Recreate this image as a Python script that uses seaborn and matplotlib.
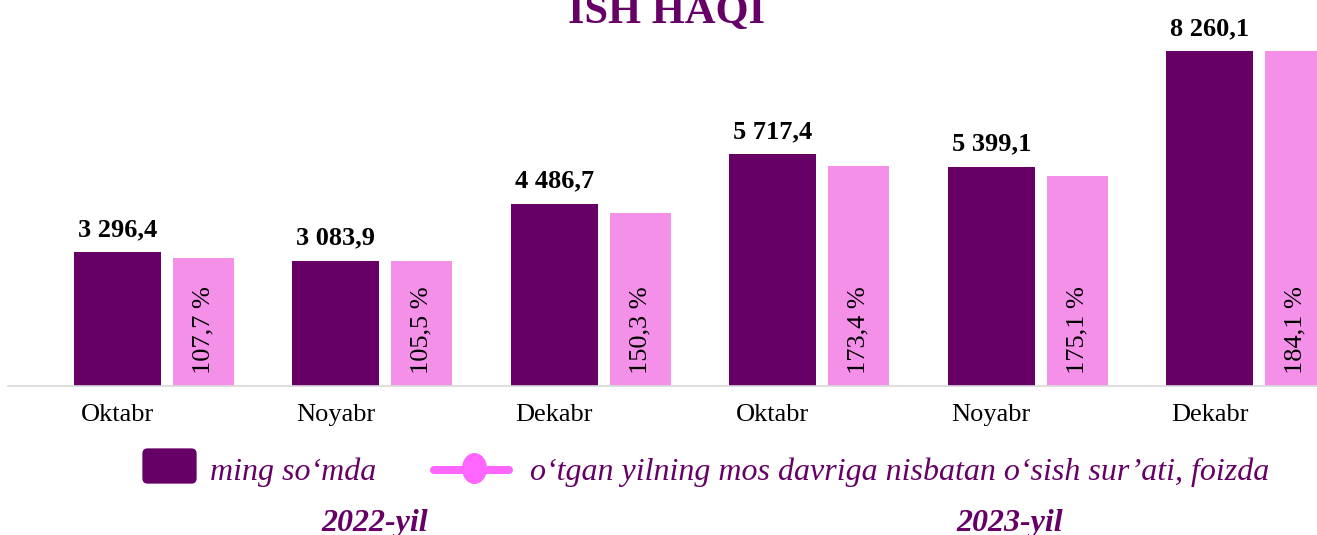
import matplotlib
matplotlib.use("Agg")
import matplotlib.pyplot as plt
from matplotlib.patches import FancyBboxPatch, Ellipse
from matplotlib.lines import Line2D
import seaborn as sns
import pandas as pd
import numpy as np

# data
months = ["Oktabr", "Noyabr", "Dekabr", "Oktabr", "Noyabr", "Dekabr"]
years = ["2022-yil", "2023-yil"]
wage = [3296.4, 3083.9, 4486.7, 5717.4, 5399.1, 8260.1]          # ming so'mda
growth = [107.7, 105.5, 150.3, 173.4, 175.1, 184.1]             # foizda
growth_bar = [3148, 3074, 4267, 5425, 5170, 8257]               # pink bar heights as drawn (wage scale)

PURPLE = "#660066"
PINK = "#F490E8"
PINK_LINE = "#FF66FF"

sns.set_style("white")
plt.rcParams["font.family"] = ["Liberation Serif", "DejaVu Serif"]

W, H = 1317, 535
fig = plt.figure(figsize=(W / 100, H / 100), dpi=100)
ax = fig.add_axes([8 / W, 1 - 385.5 / H, 1 - 8 / W, 385.5 / H])

pos = np.arange(len(wage))
df = pd.DataFrame({"pos": pos, "wage": wage,
                   "pos2": pos + 0.394, "gbar": growth_bar})

sns.barplot(data=df, x="pos", y="wage", native_scale=True, width=0.398,
            color=PURPLE, saturation=1, linewidth=0, errorbar=None, ax=ax)
sns.barplot(data=df, x="pos2", y="gbar", native_scale=True, width=0.279,
            color=PINK, saturation=1, linewidth=0, errorbar=None, ax=ax)

ax.set_xlim(-0.5, 5.491)
ax.set_ylim(0, 9519)
ax.set_xlabel("")
ax.set_ylabel("")
ax.set_yticks([])
ax.set_xticks(pos)
ax.set_xticklabels(months, fontsize=19, color="black")
ax.tick_params(axis="x", length=0, pad=13)
for s in ["top", "left", "right"]:
    ax.spines[s].set_visible(False)
ax.spines["bottom"].set_color("#D9D9D9")
ax.spines["bottom"].set_linewidth(1.2)

def fmt_wage(v):
    return f"{v:,.1f}".replace(",", " ").replace(".", ",")

for i, v in enumerate(wage):
    ax.annotate(fmt_wage(v), (pos[i], v), xytext=(0, 8), textcoords="offset points",
                ha="center", va="bottom", fontsize=19, fontweight="bold", color="black")

for i, g in enumerate(growth):
    ax.annotate(f"{g:.1f} %".replace(".", ","), (pos[i] + 0.394, 0), xytext=(0, 8.6),
                textcoords="offset points", ha="center", va="bottom", rotation=90,
                fontsize=19, color="black", annotation_clip=False)

# title (partly cut at the top, as in the reference)
fig.text(666.5 / W, 1 - 23 / H, "ISH HAQI", ha="center", va="baseline",
         fontsize=30.6, fontweight="bold", color=PURPLE)

# legend drawn by hand
def fx(px):
    return px / W

def fy(py):
    return 1 - py / H

fig.patches.append(FancyBboxPatch((fx(145), fy(481)), fx(49), 30 / H,
                                  boxstyle="round,pad=0.002,rounding_size=0.004",
                                  transform=fig.transFigure, facecolor=PURPLE,
                                  edgecolor="none", mutation_aspect=W / H))
fig.text(fx(210), fy(480), "ming so\u2018mda", ha="left", va="baseline",
         fontsize=23, style="italic", color=PURPLE)

fig.lines.append(Line2D([fx(434), fx(509)], [fy(470), fy(470)], transform=fig.transFigure,
                        color=PINK_LINE, linewidth=5.8, solid_capstyle="round"))
fig.patches.append(Ellipse((fx(474.5), fy(468.5)), 25 / W, 31 / H,
                           transform=fig.transFigure, facecolor=PINK_LINE, edgecolor="none"))
fig.text(fx(530), fy(480), "o\u2018tgan yilning mos davriga nisbatan o\u2018sish sur\u2019ati, foizda",
         ha="left", va="baseline", fontsize=23, style="italic", color=PURPLE)

# year captions
fig.text(fx(375), fy(531), years[0], ha="center", va="baseline", fontsize=23,
         fontweight="bold", style="italic", color=PURPLE)
fig.text(fx(1010), fy(531), years[1], ha="center", va="baseline", fontsize=23,
         fontweight="bold", style="italic", color=PURPLE)

fig.savefig("out.png", dpi=100)
